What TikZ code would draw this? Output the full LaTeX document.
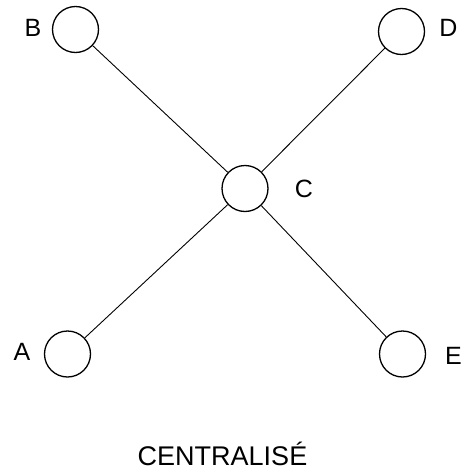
\documentclass[tikz,border=0pt]{standalone}
\usepackage{fontspec}
\setmainfont{Liberation Sans}
\begin{document}
\begin{tikzpicture}[x=1pt,y=-1pt,
  station/.style={circle,draw,line width=1.3pt,minimum size=46pt,inner sep=0pt},
  lbl/.style={font=\fontsize{25}{30}\selectfont,inner sep=0pt},
  link/.style={line width=0.9pt}]
\useasboundingbox (0,0) rectangle (470,471);
\node[station] (B) at (75.5,29.5) {};
\node[station] (D) at (401.5,31.5) {};
\node[station] (C) at (245,188.5) {};
\node[station] (A) at (67.5,354) {};
\node[station] (E) at (402.5,354) {};
\node[lbl] (lB) at (33,28) {B};
\node[lbl] (lD) at (448.5,27.5) {D};
\node[lbl] (lC) at (304,189) {C};
\node[lbl] (lA) at (22,352) {A};
\node[lbl] (lE) at (453.5,356) {E};
\node[font=\fontsize{27}{32}\selectfont,inner sep=0pt,anchor=base] (t) at (222.5,465) {CENTRALISÉ};
\draw[link] (B) -- (C);
\draw[link] (D) -- (C);
\draw[link] (A) -- (C);
\draw[link] (E) -- (C);
\end{tikzpicture}
\end{document}
